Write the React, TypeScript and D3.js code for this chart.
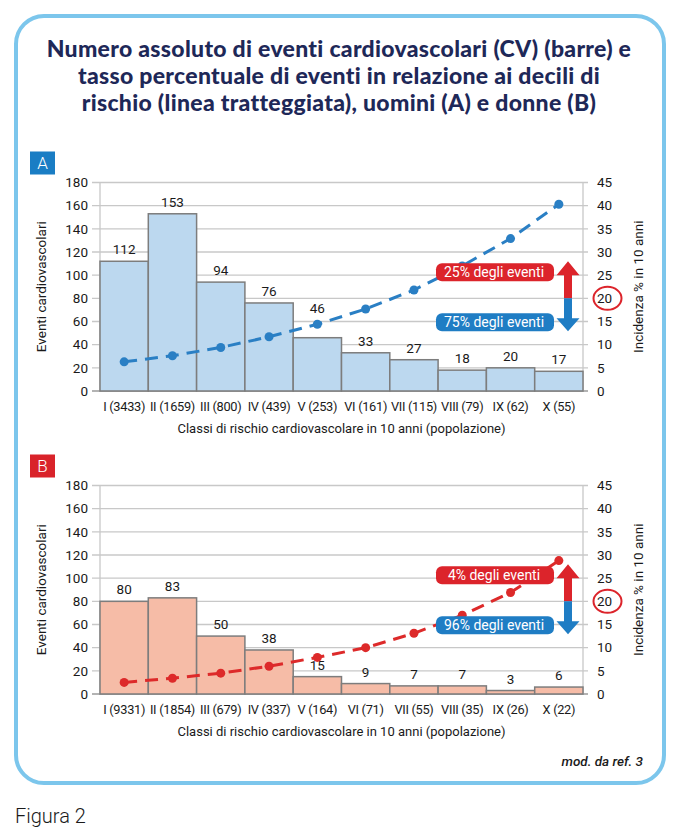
import React, { useRef, useEffect } from "react";
import * as d3 from "d3";

// data
const classesA = ["I (3433)", "II (1659)", "III (800)", "IV (439)", "V (253)", "VI (161)", "VII (115)", "VIII (79)", "IX (62)", "X (55)"];
const eventsA = [112, 153, 94, 76, 46, 33, 27, 18, 20, 17];
const rateA = [6.3, 7.6, 9.4, 11.7, 14.4, 17.7, 21.8, 27.0, 32.9, 40.3];

const classesB = ["I (9331)", "II (1854)", "III (679)", "IV (337)", "V (164)", "VI (71)", "VII (55)", "VIII (35)", "IX (26)", "X (22)"];
const eventsB = [80, 83, 50, 38, 15, 9, 7, 7, 3, 6];
const rateB = [2.5, 3.4, 4.5, 6.0, 7.9, 10.0, 13.1, 17.0, 21.9, 28.8];

const leftTicks = [0, 20, 40, 60, 80, 100, 120, 140, 160, 180];
const rightTicks = [0, 5, 10, 15, 20, 25, 30, 35, 40, 45];
const shareA = ["25% degli eventi", "75% degli eventi"];
const shareB = ["4% degli eventi", "96% degli eventi"];

const titleLines = [
  "Numero assoluto di eventi cardiovascolari (CV) (barre) e",
  "tasso percentuale di eventi in relazione ai decili di",
  "rischio (linea tratteggiata), uomini (A) e donne (B)",
];

const FONT = "Roboto, 'Open Sans', sans-serif";
const BLUE = "#1f7dc4";
const RED = "#dc242b";

const App = () => {
  const chartRef = useRef(null);

  useEffect(() => {
    const root = d3.select(chartRef.current);
    root.selectAll("svg").remove();

    const width = 678;
    const height = 837;

    const svg = root
      .append("svg")
      .attr("width", width)
      .attr("height", height)
      .style("position", "absolute")
      .style("left", 0)
      .style("top", 0)
      .style("background", "#fff");

    // outer frame
    svg.append("rect")
      .attr("x", 16).attr("y", 16)
      .attr("width", 648).attr("height", 767)
      .attr("rx", 28)
      .attr("fill", "#fff")
      .attr("stroke", "#7cc6ec")
      .attr("stroke-width", 4);

    // title
    svg.append("g")
      .selectAll("text")
      .data(titleLines)
      .enter()
      .append("text")
      .attr("x", 339)
      .attr("y", (d, i) => 57 + i * 27)
      .attr("text-anchor", "middle")
      .attr("font-family", "Lato, 'Open Sans', sans-serif")
      .attr("font-weight", 900)
      .attr("font-size", 23)
      .attr("letter-spacing", 0.3)
      .attr("fill", "#1e2858")
      .text((d) => d);

    const drawPanel = (
      top: number,
      tag: string,
      tagColor: string,
      classes: string[],
      events: number[],
      rate: number[],
      share: string[],
      barFill: string,
      lineColor: string
    ) => {
      const g = svg.append("g");
      const x0 = 100;
      const x1 = 583;
      const bottom = top + 208.5;

      const x = d3.scaleBand().domain(classes).range([x0, x1]).padding(0);
      const yL = d3.scaleLinear().domain([0, 180]).range([bottom, top]);
      const yR = d3.scaleLinear().domain([0, 45]).range([bottom, top]);

      // panel tag
      g.append("rect")
        .attr("x", 30).attr("y", top - 31)
        .attr("width", 25).attr("height", 23)
        .attr("fill", tagColor);
      g.append("text")
        .attr("x", 42.5).attr("y", top - 13.5)
        .attr("text-anchor", "middle")
        .attr("font-family", FONT)
        .attr("font-size", 17)
        .attr("font-weight", 300)
        .attr("fill", "#fff")
        .text(tag);

      // grid
      g.append("g")
        .selectAll("line")
        .data(leftTicks)
        .enter()
        .append("line")
        .attr("x1", x0 - 8)
        .attr("x2", x1 + 5)
        .attr("y1", (d) => yL(d))
        .attr("y2", (d) => yL(d))
        .attr("stroke", (d) => (d === 0 ? "#9a9a9a" : "#c8c8c8"))
        .attr("stroke-width", 1.3);

      g.append("line")
        .attr("x1", x0).attr("x2", x0)
        .attr("y1", top).attr("y2", bottom)
        .attr("stroke", "#c8c8c8").attr("stroke-width", 1.3);
      g.append("line")
        .attr("x1", x1).attr("x2", x1)
        .attr("y1", top).attr("y2", bottom)
        .attr("stroke", "#c8c8c8").attr("stroke-width", 1.3);

      // axes
      const leftAxis = g.append("g")
        .attr("transform", `translate(${x0},0)`)
        .call(d3.axisLeft(yL).tickValues(leftTicks).tickSize(0).tickPadding(12));
      const rightAxis = g.append("g")
        .attr("transform", `translate(${x1},0)`)
        .call(d3.axisRight(yR).tickValues(rightTicks).tickSize(0).tickPadding(14));
      const bottomAxis = g.append("g")
        .attr("transform", `translate(0,${bottom})`)
        .call(d3.axisBottom(x).tickSize(0).tickPadding(11));
      [leftAxis, rightAxis, bottomAxis].forEach((a) => {
        a.select(".domain").remove();
        a.selectAll("text")
          .attr("font-family", FONT)
          .attr("font-size", 13.5)
          .attr("fill", "#1a1a1a");
      });
      bottomAxis.selectAll("text").attr("font-size", 12.8).attr("letter-spacing", -0.3);

      // bars
      g.append("g")
        .selectAll("rect")
        .data(events)
        .enter()
        .append("rect")
        .attr("x", (d, i) => x(classes[i]) as number)
        .attr("y", (d) => yL(d))
        .attr("width", x.bandwidth())
        .attr("height", (d) => bottom - yL(d))
        .attr("fill", barFill)
        .attr("stroke", "#7d7d7d")
        .attr("stroke-width", 1.5);

      // bar values
      g.append("g")
        .selectAll("text")
        .data(events)
        .enter()
        .append("text")
        .attr("x", (d, i) => (x(classes[i]) as number) + x.bandwidth() / 2)
        .attr("y", (d, i) => yL(d) - 7 - (tag === "A" && i === 4 ? 18 : 0))
        .attr("text-anchor", "middle")
        .attr("font-family", FONT)
        .attr("font-size", 13.5)
        .attr("fill", "#1a1a1a")
        .text((d) => d);

      // dashed incidence line
      const line = d3.line<number>()
        .x((d, i) => (x(classes[i]) as number) + x.bandwidth() / 2)
        .y((d) => yR(d));
      g.append("path")
        .datum(rate)
        .attr("d", line)
        .attr("fill", "none")
        .attr("stroke", lineColor)
        .attr("stroke-width", 3)
        .attr("stroke-dasharray", "13,8");
      g.append("g")
        .selectAll("circle")
        .data(rate)
        .enter()
        .append("circle")
        .attr("cx", (d, i) => (x(classes[i]) as number) + x.bandwidth() / 2)
        .attr("cy", (d) => yR(d))
        .attr("r", 4.5)
        .attr("fill", lineColor);

      // axis titles
      g.append("text")
        .attr("transform", `translate(46,${(top + bottom) / 2}) rotate(-90)`)
        .attr("text-anchor", "middle")
        .attr("font-family", FONT)
        .attr("font-size", 13.5)
        .attr("fill", "#1a1a1a")
        .text("Eventi cardiovascolari");
      g.append("text")
        .attr("transform", `translate(643,${(top + bottom) / 2}) rotate(-90)`)
        .attr("text-anchor", "middle")
        .attr("font-family", FONT)
        .attr("font-size", 13.5)
        .attr("fill", "#1a1a1a")
        .text("Incidenza % in 10 anni");
      g.append("text")
        .attr("x", (x0 + x1) / 2)
        .attr("y", bottom + 42)
        .attr("text-anchor", "middle")
        .attr("font-family", FONT)
        .attr("font-size", 13)
        .attr("fill", "#1a1a1a")
        .text("Classi di rischio cardiovascolare in 10 anni (popolazione)");

      // 20% threshold annotation
      const y20 = yR(20);
      const ax = 568;
      const boxes = [
        { text: share[0], color: RED, y: y20 - 35 },
        { text: share[1], color: BLUE, y: y20 + 15 },
      ];
      boxes.forEach((b) => {
        g.append("rect")
          .attr("x", 436).attr("y", b.y)
          .attr("width", 118).attr("height", 18)
          .attr("rx", 6)
          .attr("fill", b.color);
        g.append("text")
          .attr("x", 494).attr("y", b.y + 14)
          .attr("text-anchor", "middle")
          .attr("font-family", FONT)
          .attr("font-size", 14)
          .attr("fill", "#fff")
          .text(b.text);
      });
      g.append("path")
        .attr("d", `M${ax},${y20 - 37} L${ax + 11.5},${y20 - 23} L${ax + 4},${y20 - 23} L${ax + 4},${y20} L${ax - 4},${y20} L${ax - 4},${y20 - 23} L${ax - 11.5},${y20 - 23} Z`)
        .attr("fill", RED);
      g.append("path")
        .attr("d", `M${ax},${y20 + 33} L${ax + 11.5},${y20 + 20} L${ax + 4},${y20 + 20} L${ax + 4},${y20} L${ax - 4},${y20} L${ax - 4},${y20 + 20} L${ax - 11.5},${y20 + 20} Z`)
        .attr("fill", BLUE);
      g.append("ellipse")
        .attr("cx", 607.5).attr("cy", y20)
        .attr("rx", 14).attr("ry", 11.5)
        .attr("fill", "none")
        .attr("stroke", RED)
        .attr("stroke-width", 2);
    };

    drawPanel(182.5, "A", "#1a7dc4", classesA, eventsA, rateA, shareA, "#bcd8ef", "#2a7fc4");
    drawPanel(485.5, "B", "#d9232a", classesB, eventsB, rateB, shareB, "#f6bca7", "#dd2a2a");

    svg.append("text")
      .attr("x", 643).attr("y", 766)
      .attr("text-anchor", "end")
      .attr("font-family", FONT)
      .attr("font-style", "italic")
      .attr("font-weight", 500)
      .attr("font-size", 13.5)
      .attr("fill", "#1a1a1a")
      .text("mod. da ref. 3");

    svg.append("text")
      .attr("x", 15).attr("y", 823)
      .attr("font-family", FONT)
      .attr("font-weight", 300)
      .attr("font-size", 20)
      .attr("fill", "#1a1a1a")
      .text("Figura 2");
  }, []);

  return <div ref={chartRef} />;
};

export default App;
